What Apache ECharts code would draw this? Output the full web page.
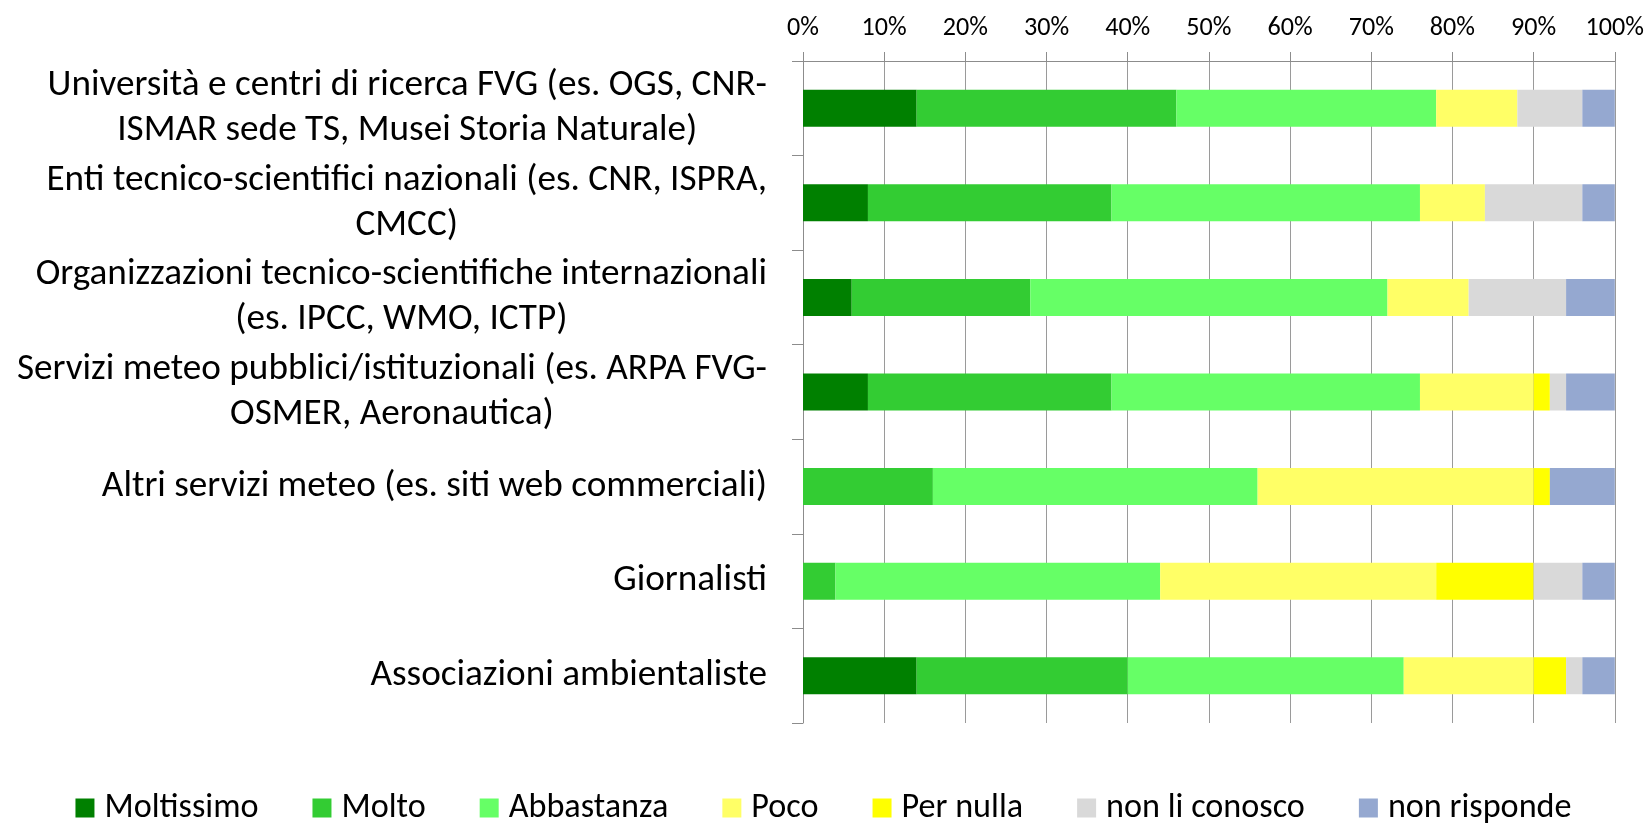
<!DOCTYPE html>
<html><head><meta charset="utf-8">
<script src="https://cdn.jsdelivr.net/npm/echarts@6/dist/echarts.min.js"></script>
<style>html,body{margin:0;padding:0;background:#fff}#chart{width:1647px;height:824px}</style>
</head><body><div id="chart"></div>
<script>
const categories = [
  'Università e centri di ricerca FVG (es. OGS, CNR-\nISMAR sede TS, Musei Storia Naturale)',
  'Enti tecnico-scientifici nazionali (es. CNR, ISPRA,\nCMCC)',
  'Organizzazioni tecnico-scientifiche internazionali\n(es. IPCC, WMO, ICTP)',
  'Servizi meteo pubblici/istituzionali (es. ARPA FVG-\nOSMER, Aeronautica)',
  'Altri servizi meteo (es. siti web commerciali)',
  'Giornalisti',
  'Associazioni ambientaliste'
];
const seriesNames = ['Moltissimo', 'Molto', 'Abbastanza', 'Poco', 'Per nulla', 'non li conosco', 'non risponde'];
const moltissimo   = [14, 8, 6, 8, 0, 0, 14];
const molto        = [32, 30, 22, 30, 16, 4, 26];
const abbastanza   = [32, 38, 44, 38, 40, 40, 34];
const poco         = [10, 8, 10, 14, 34, 34, 16];
const perNulla     = [0, 0, 0, 2, 2, 12, 4];
const nonLiConosco = [8, 12, 12, 2, 0, 6, 2];
const nonRisponde  = [4, 4, 6, 6, 8, 4, 4];
const colors = ['#008000', '#33CC33', '#66FF66', '#FFFF66', '#FFFF00', '#D9D9D9', '#95A8D0'];

const FONT = 'Carlito, Lato, sans-serif';
function measure(str, size) {
  const c = document.createElement('canvas').getContext('2d');
  c.font = size + 'px ' + FONT;
  return c.measureText(str).width;
}
const catSize = Math.round(397 / measure('Associazioni ambientaliste', 100) * 100 * 10) / 10;
const xSize = catSize * 26 / 37;
const legSize = catSize * 34 / 37;

const allValues = [moltissimo, molto, abbastanza, poco, perNulla, nonLiConosco, nonRisponde];
const chart = echarts.init(document.getElementById('chart'), null, { renderer: 'canvas' });
chart.setOption({
  animation: false,
  backgroundColor: '#fff',
  grid: { left: 803, right: 32, top: 61, bottom: 101, containLabel: false },
  xAxis: {
    type: 'value', position: 'top', min: 0, max: 100, interval: 10,
    axisLine: { show: true, lineStyle: { color: '#8C8C8C', width: 1 } },
    axisTick: { show: true, length: 9, lineStyle: { color: '#8C8C8C' } },
    splitLine: { show: true, lineStyle: { color: '#9A9A9A', width: 1 } },
    axisLabel: { formatter: '{value}%', fontFamily: FONT, fontSize: xSize, color: '#000', margin: 20 }
  },
  yAxis: {
    type: 'category', inverse: true, data: categories,
    axisLine: { show: true, lineStyle: { color: '#8C8C8C', width: 1 } },
    axisTick: { show: true, length: 11, lineStyle: { color: '#8C8C8C' } },
    axisLabel: {
      margin: 36,
      formatter: v => v.split('\n').map(l => '{c|' + l + '}').join('\n'),
      rich: { c: { align: 'center', fontFamily: FONT, fontSize: catSize, color: '#000', lineHeight: 45 } }
    }
  },
  legend: {
    top: 786, left: 'center', icon: 'rect', itemWidth: 19, itemHeight: 19, itemGap: 54,
    textStyle: { fontFamily: FONT, fontSize: legSize, color: '#000', padding: [0, 0, 0, 5] },
    data: seriesNames
  },
  series: seriesNames.map((n, i) => ({
    name: n, type: 'bar', stack: 'total', barWidth: 37,
    itemStyle: { color: colors[i] },
    data: allValues[i]
  }))
});
</script></body></html>
